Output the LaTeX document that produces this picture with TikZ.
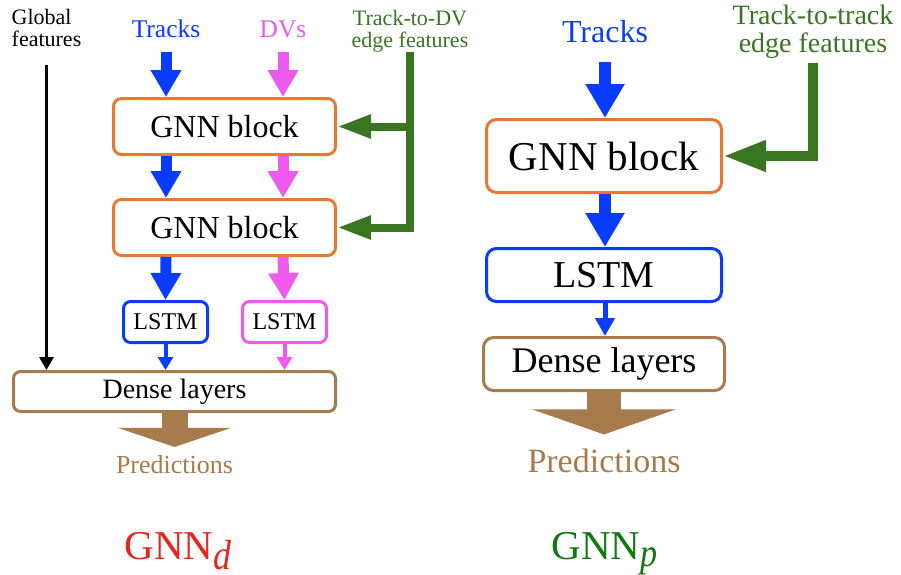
\documentclass[tikz,border=0pt]{standalone}
\usepackage{fontspec}
\setmainfont{Liberation Serif}
\usetikzlibrary{arrows.meta,calc}
\definecolor{blueC}{RGB}{10,60,255}
\definecolor{magC}{RGB}{238,90,238}
\definecolor{orangeC}{RGB}{230,122,50}
\definecolor{brownC}{RGB}{166,124,76}
\definecolor{greenE}{RGB}{58,118,34}
\definecolor{redC}{RGB}{232,36,28}
\definecolor{greenP}{RGB}{18,120,18}
\newcommand{\myfs}[1]{\fontsize{#1}{#1}\selectfont}
\tikzset{
  lbl/.style={inner sep=0pt, outer sep=0pt},
  box/.style={draw, line width=3pt, fill=white, inner sep=0pt, align=center},
  gnnboxL/.style={box, draw=orangeC, rounded corners=8pt, minimum width=222pt, minimum height=56pt, font=\myfs{32}},
  gnnboxR/.style={box, draw=orangeC, rounded corners=10pt, minimum width=235pt, minimum height=73pt, font=\myfs{41}},
  lstmboxL/.style={box, rounded corners=7pt, minimum width=84pt, minimum height=41pt, font=\myfs{24}},
  lstmboxR/.style={box, draw=blueC, rounded corners=10pt, minimum width=235pt, minimum height=53pt, font=\myfs{38}},
  denseboxL/.style={box, draw=brownC, rounded corners=7pt, minimum width=322pt, minimum height=40pt, font=\myfs{28}},
  denseboxR/.style={box, draw=brownC, rounded corners=10pt, minimum width=241pt, minimum height=53pt, font=\myfs{36}},
  fatL/.style={line width=11pt, -{Triangle[width=29pt,length=27pt]}},
  fatR/.style={line width=12pt, -{Triangle[width=37pt,length=34pt]}},
  thinL/.style={line width=4pt, -{Triangle[width=15pt,length=13pt]}},
  thinR/.style={line width=5pt, -{Triangle[width=19pt,length=18pt]}},
  greenL/.style={draw=greenE, line width=8pt, line join=miter, -{Triangle[width=22pt,length=34pt]}},
  greenR/.style={draw=greenE, line width=10pt, line join=miter, -{Triangle[width=29pt,length=43pt]}},
  globalarrow/.style={draw=black, line width=3pt, -{Triangle[width=14pt,length=13pt]}},
  brownL/.style={draw=brownC, line width=26pt, -{Triangle[width=112pt,length=19pt]}},
  brownR/.style={draw=brownC, line width=34pt, -{Triangle[width=143pt,length=25pt]}},
}
\begin{document}
\begin{tikzpicture}[x=1pt,y=-1pt]
\useasboundingbox[fill=white] (0,0) rectangle (901,574);

% ---------- Left: GNN_d ----------
\node[lbl, font=\myfs{22}, align=left, anchor=south] (globalL) at (46.5,47) {Global\\features};
\node[lbl, text=blueC, font=\myfs{25.5}, anchor=base] (tracksL) at (166,37) {Tracks};
\node[lbl, text=magC, font=\myfs{25.5}, anchor=base] (dvsL) at (283,37) {DVs};
\node[lbl, text=greenE, font=\myfs{22}, align=center, anchor=south] (edgeL) at (410,52) {Track-to-DV\\edge features};

\node[gnnboxL] (gnn1L) at (224.5,126.5) {GNN block};
\node[gnnboxL] (gnn2L) at (224.5,227.5) {GNN block};
\node[lstmboxL, draw=blueC] (lstm1L) at (165.5,322) {LSTM};
\node[lstmboxL, draw=magC] (lstm2L) at (284.5,322) {LSTM};
\node[denseboxL] (denseL) at (174.5,391.5) {Dense layers};
\node[lbl, text=brownC, font=\myfs{26}, anchor=base] (predL) at (174.5,473) {Predictions};

\draw[fatL, draw=blueC] ([yshift=-15pt]tracksL.south) -- (gnn1L.north -| tracksL);
\draw[fatL, draw=magC] ([yshift=-15pt]dvsL.south) -- (gnn1L.north -| dvsL);
\draw[fatL, draw=blueC] (gnn1L.south -| tracksL) -- (gnn2L.north -| tracksL);
\draw[fatL, draw=magC] (gnn1L.south -| dvsL) -- (gnn2L.north -| dvsL);
\draw[fatL, draw=blueC] (gnn2L.south -| tracksL) -- (lstm1L.north);
\draw[fatL, draw=magC] (gnn2L.south -| dvsL) -- (lstm2L.north);
\draw[thinL, draw=blueC] (lstm1L.south) -- (denseL.north -| lstm1L);
\draw[thinL, draw=magC] (lstm2L.south) -- (denseL.north -| lstm2L);
\draw[greenL] (edgeL.south) -- (edgeL.south |- gnn2L.east) -- (gnn2L.east);
\draw[greenL] (edgeL.south |- gnn1L.east) -- (gnn1L.east);
\draw[globalarrow] ([yshift=-18pt]globalL.south) -- (denseL.north -| globalL);
\draw[brownL] (denseL.south) -- ([yshift=8pt]predL.north);

\node[lbl, text=redC, font=\myfs{41}, anchor=base] (titleL) at (178,559) {GNN\raisebox{-10pt}{\scalebox{0.85}[1]{\myfs{42}\itshape d}}};

% ---------- Right: GNN_p ----------
\node[lbl, text=blueC, font=\myfs{32}, anchor=base] (tracksR) at (605,42) {Tracks};
\node[lbl, text=greenE, font=\myfs{28}, align=center, anchor=south] (edgeR) at (813,59) {Track-to-track\\edge features};
\node[gnnboxR] (gnnR) at (604,156) {GNN block};
\node[lstmboxR] (lstmR) at (604,275) {LSTM};
\node[denseboxR] (denseR) at (604,364) {Dense layers};
\node[lbl, text=brownC, font=\myfs{34}, anchor=base] (predR) at (604,472) {Predictions};

\draw[fatR, draw=blueC] ([yshift=-20pt]tracksR.south) -- (gnnR.north -| tracksR);
\draw[fatR, draw=blueC] (gnnR.south -| tracksR) -- (lstmR.north -| tracksR);
\draw[thinR, draw=blueC] (lstmR.south -| tracksR) -- (denseR.north -| tracksR);
\draw[greenR] ([yshift=-4pt]edgeR.south) -- (edgeR.south |- gnnR.east) -- (gnnR.east);
\draw[brownR] (denseR.south) -- ([yshift=14pt]predR.north);

\node[lbl, text=greenP, font=\myfs{41}, anchor=base] (titleR) at (604.5,559) {GNN\raisebox{-7pt}{\scalebox{0.85}[1]{\myfs{40}\itshape p}}};
\end{tikzpicture}
\end{document}
